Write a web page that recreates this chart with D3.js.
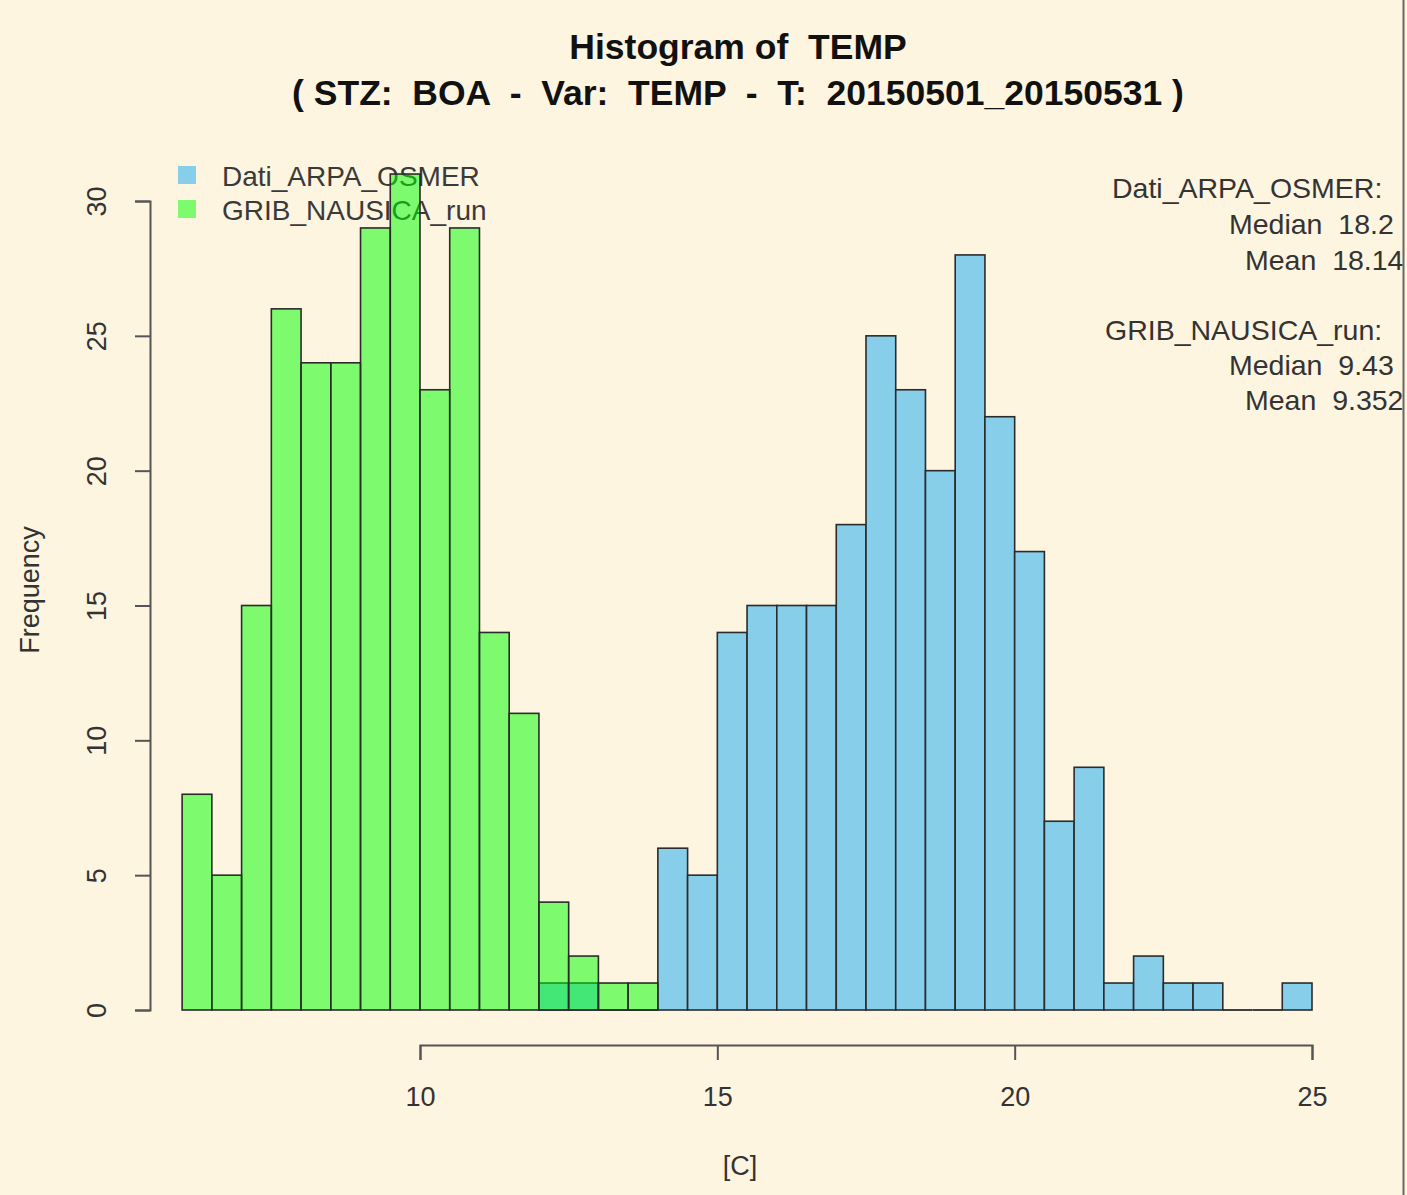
<!DOCTYPE html>
<html>
<head>
<meta charset="utf-8">
<script src="https://cdn.jsdelivr.net/npm/d3@7"></script>
<style>
  html, body { margin: 0; padding: 0; background: #FDF5DF; }
  svg { display: block; }
  text { font-family: "Liberation Sans", Arial, sans-serif; white-space: pre; }
</style>
</head>
<body>
<svg id="chart" width="1407" height="1195"></svg>
<script>
// Histogram bins (left edges, width 0.5 °C) and counts per series
const binWidth = 0.5;
const grib_bins   = [6.0, 6.5, 7.0, 7.5, 8.0, 8.5, 9.0, 9.5, 10.0, 10.5, 11.0, 11.5, 12.0, 12.5, 13.0, 13.5];
const grib_counts = [8, 5, 15, 26, 24, 24, 29, 31, 23, 29, 14, 11, 4, 2, 1, 1];

const arpa_bins   = [12.0, 12.5, 13.0, 13.5, 14.0, 14.5, 15.0, 15.5, 16.0, 16.5, 17.0, 17.5, 18.0,
                     18.5, 19.0, 19.5, 20.0, 20.5, 21.0, 21.5, 22.0, 22.5, 23.0, 23.5, 24.0, 24.5];
const arpa_counts = [1, 1, 0, 0, 6, 5, 14, 15, 15, 15, 18, 25, 23,
                     20, 28, 22, 17, 7, 9, 1, 2, 1, 1, 0, 0, 1];

const seriesNames = ["Dati_ARPA_OSMER", "GRIB_NAUSICA_run"];
const xTicks = [10, 15, 20, 25];
const yTicks = [0, 5, 10, 15, 20, 25, 30];

const statLines = [
  ["Dati_ARPA_OSMER:", 0],
  ["Median  18.2", 1],
  ["Mean  18.14", 2],
  ["GRIB_NAUSICA_run:", 0],
  ["Median  9.43", 1],
  ["Mean  9.352", 2]
];

const titleLines = ["Histogram of  TEMP", "( STZ:  BOA  -  Var:  TEMP  -  T:  20150501_20150531 )"];

const colArpa = "#87CEEB";
const colGrib = "rgba(0,255,0,0.5)";
const ink = "#333";

const svg = d3.select("#chart");

const x = d3.scaleLinear().domain([10, 25]).range([420, 1312]);
const y = d3.scaleLinear().domain([0, 30]).range([1010, 201]);

// Title
svg.selectAll("text.title").data(titleLines).enter().append("text")
  .attr("class", "title")
  .attr("x", 738)
  .attr("y", (d, i) => 59 + i * 46)
  .attr("text-anchor", "middle")
  .attr("font-size", 35.5)
  .attr("font-weight", "bold")
  .attr("fill", "#111")
  .text(d => d);

// Legend (drawn beneath the bars)
const legend = svg.append("g");
const legendCols = [colArpa, colGrib];
seriesNames.forEach((name, i) => {
  legend.append("rect")
    .attr("x", 178).attr("y", 166 + i * 34)
    .attr("width", 18).attr("height", 18)
    .attr("fill", legendCols[i]);
  legend.append("text")
    .attr("x", 222).attr("y", 186 + i * 34)
    .attr("font-size", 28)
    .attr("fill", "#3a3a3a")
    .text(name);
});

// Bars; empty bins leave only their bottom edge on the baseline
function drawBars(bins, counts, fill) {
  const data = bins.map((b, i) => ({ x0: b, n: counts[i] }));
  const g = svg.append("g");
  g.selectAll("rect")
    .data(data.filter(d => d.n > 0))
    .enter().append("rect")
    .attr("x", d => x(d.x0))
    .attr("y", d => y(d.n))
    .attr("width", d => x(d.x0 + binWidth) - x(d.x0))
    .attr("height", d => y(0) - y(d.n))
    .attr("fill", fill)
    .attr("stroke", "#2b2b2b")
    .attr("stroke-width", 1.6);
  g.selectAll("line")
    .data(data.filter(d => d.n === 0))
    .enter().append("line")
    .attr("x1", d => x(d.x0))
    .attr("x2", d => x(d.x0 + binWidth))
    .attr("y1", y(0)).attr("y2", y(0))
    .attr("stroke", "#2b2b2b")
    .attr("stroke-width", 1.8);
}
drawBars(arpa_bins, arpa_counts, colArpa);
drawBars(grib_bins, grib_counts, colGrib);

// X axis
const xAxis = svg.append("g")
  .attr("transform", "translate(0,1045)")
  .call(d3.axisBottom(x).tickValues(xTicks).tickSize(15).tickPadding(27).tickFormat(d3.format("d")));
xAxis.select(".domain").attr("stroke", "#555").attr("stroke-width", 2);
xAxis.selectAll(".tick line").attr("stroke", "#555").attr("stroke-width", 2);
xAxis.selectAll(".tick text").attr("font-size", 27).attr("fill", ink)
  .attr("font-family", "Liberation Sans, Arial, sans-serif");

// Y axis
const yAxis = svg.append("g")
  .attr("transform", "translate(150,0)")
  .call(d3.axisLeft(y).tickValues(yTicks).tickSize(15).tickPadding(0).tickFormat(d3.format("d")));
yAxis.select(".domain").attr("stroke", "#555").attr("stroke-width", 2);
yAxis.selectAll(".tick line").attr("stroke", "#555").attr("stroke-width", 2);
yAxis.selectAll(".tick text")
  .attr("font-size", 27).attr("fill", ink)
  .attr("font-family", "Liberation Sans, Arial, sans-serif")
  .attr("text-anchor", "middle")
  .attr("dy", null)
  .attr("x", null)
  .attr("transform", "translate(-53,0) rotate(-90)")
  .attr("y", 9);

// Axis titles
svg.append("text")
  .attr("transform", "translate(39,590) rotate(-90)")
  .attr("text-anchor", "middle")
  .attr("font-size", 27)
  .attr("fill", ink)
  .text("Frequency");
svg.append("text")
  .attr("x", 740).attr("y", 1175)
  .attr("text-anchor", "middle")
  .attr("font-size", 27)
  .attr("fill", ink)
  .text("[C]");

// Summary statistics block at the right
const statX = [1112, 1229, 1245];
const statX2 = [1105, 1229, 1245];
svg.append("g").selectAll("text")
  .data(statLines).enter().append("text")
  .attr("x", (d, i) => (i < 3 ? statX : statX2)[d[1]])
  .attr("y", (d, i) => [198, 234, 270, 340, 375, 410][i])
  .attr("font-size", 28.5)
  .attr("fill", ink)
  .text(d => d[0]);

// Frame line at the right edge
svg.append("line")
  .attr("x1", 1403.5).attr("x2", 1403.5)
  .attr("y1", 0).attr("y2", 1195)
  .attr("stroke", "#666").attr("stroke-width", 2);
</script>
</body>
</html>
